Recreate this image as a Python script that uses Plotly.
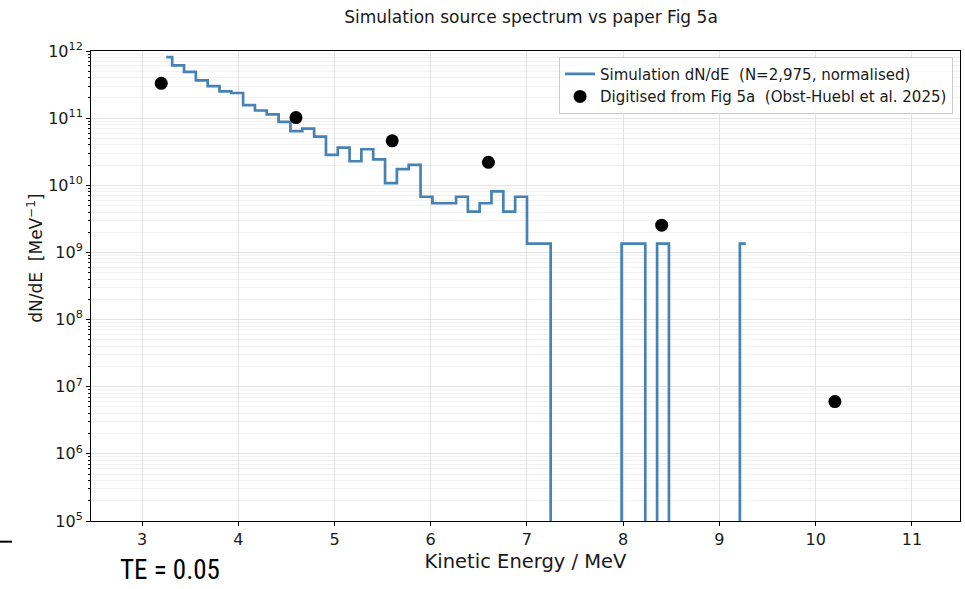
import plotly.graph_objects as go

# ---- data ----
bin_centres_mev = [3.252, 3.375, 3.498, 3.621, 3.744, 3.867, 3.989, 4.112, 4.235, 4.358,
                   4.481, 4.604, 4.727, 4.850, 4.973, 5.096, 5.218, 5.341, 5.464, 5.587,
                   5.710, 5.833, 5.956, 6.079, 6.202, 6.325, 6.447, 6.570, 6.693, 6.816,
                   6.939, 7.062, 7.185, 7.308, 7.431, 7.554, 7.676, 7.799, 7.922, 8.045,
                   8.168, 8.291, 8.414, 8.537, 8.660, 8.783, 8.905, 9.028, 9.151, 9.274]
sim_dnde = [8.1e11, 6.1e11, 4.9e11, 3.66e11, 3.0e11, 2.5e11, 2.37e11, 1.56e11, 1.30e11, 1.14e11,
            8.8e10, 6.4e10, 7.0e10, 5.3e10, 2.84e10, 3.64e10, 2.28e10, 3.44e10, 2.44e10, 1.08e10,
            1.74e10, 2.02e10, 6.75e9, 5.4e9, 5.4e9, 6.75e9, 4.05e9, 5.4e9, 8.1e9, 4.05e9,
            6.75e9, 1.35e9, 1.35e9, 0, 0, 0, 0, 0, 0, 1.35e9,
            1.35e9, 0, 1.35e9, 0, 0, 0, 0, 0, 0, 1.35e9]

paper_energy_mev = [3.2, 4.6, 5.6, 6.6, 8.4, 10.2]
paper_dnde = [3.3e11, 1.02e11, 4.6e10, 2.2e10, 2.55e9, 6.0e6]

x_ticks = [3, 4, 5, 6, 7, 8, 9, 10, 11]
y_tick_vals = [1e5, 1e6, 1e7, 1e8, 1e9, 1e10, 1e11, 1e12]
y_tick_text = ["10<sup>5</sup>", "10<sup>6</sup>", "10<sup>7</sup>", "10<sup>8</sup>",
               "10<sup>9</sup>", "10<sup>10</sup>", "10<sup>11</sup>", "10<sup>12</sup>"]

title_text = "Simulation source spectrum vs paper Fig 5a"
x_title = "Kinetic Energy / MeV"
y_title = "dN/dE  [MeV<sup>\u22121</sup>]"
sim_label = "Simulation dN/dE  (N=2,975, normalised)"
paper_label = "Digitised from Fig 5a  (Obst-Huebl et al. 2025)"
note_text = "TE = 0.05"

# empty bins are clipped to the bottom of the log axis (as matplotlib does)
LOG_FLOOR = 1e-3
sim_plot = [v if v > 0 else LOG_FLOOR for v in sim_dnde]

minor_vals = [m * d for d in [1e5, 1e6, 1e7, 1e8, 1e9, 1e10, 1e11] for m in range(2, 10)]

FONT = "DejaVu Sans"
TXT = "#1a1a1a"

fig = go.Figure()
fig.add_trace(go.Scatter(
    x=bin_centres_mev, y=sim_plot, mode="lines", line_shape="hvh",
    line=dict(color="#4682b4", width=2.7), name=sim_label,
))
fig.add_trace(go.Scatter(
    x=paper_energy_mev, y=paper_dnde, mode="markers",
    marker=dict(color="black", size=13), name=paper_label,
))

fig.update_layout(
    width=965, height=589,
    margin=dict(l=91, r=5, t=51, b=68),
    paper_bgcolor="white", plot_bgcolor="white",
    font=dict(family=FONT, size=16, color=TXT),
    title=dict(text=title_text, x=0.5503, xanchor="center", y=0.971, yanchor="middle",
               font=dict(family=FONT, size=17, color=TXT)),
    showlegend=True,
    legend=dict(x=0.992, xanchor="right", y=0.988, yanchor="top",
                bgcolor="rgba(255,255,255,0.85)", bordercolor="#cccccc", borderwidth=1,
                font=dict(family=FONT, size=15, color=TXT), tracegroupgap=0),
    xaxis=dict(
        range=[2.47, 11.5], tickvals=x_ticks, ticks="outside", ticklen=4, tickcolor="black",
        showline=True, linecolor="black", linewidth=1, mirror=True,
        showgrid=True, gridcolor="#e3e3e3", gridwidth=1, zeroline=False,
        tickfont=dict(family=FONT, size=16, color=TXT),
        title=dict(text=x_title, standoff=6,
                   font=dict(family=FONT, size=19.5, color=TXT)),
    ),
    yaxis=dict(
        type="log", range=[5, 12], tickvals=y_tick_vals, ticktext=y_tick_text,
        ticks="outside", ticklen=4, tickcolor="black",
        showline=True, linecolor="black", linewidth=1, mirror=True,
        showgrid=True, gridcolor="#e3e3e3", gridwidth=1, zeroline=False,
        tickfont=dict(family=FONT, size=16, color=TXT),
        minor=dict(tickvals=minor_vals, ticks="outside", ticklen=2, tickcolor="black",
                   showgrid=True, gridcolor="#f2f2f2", gridwidth=1),
    ),
)

# y-axis label (placed where the reference shows it)
fig.add_annotation(text=y_title, xref="paper", yref="paper", x=-0.0645, y=0.56,
                   xanchor="center", yanchor="middle", textangle=-90, showarrow=False,
                   font=dict(family=FONT, size=17, color=TXT))
fig.add_annotation(text=note_text, xref="paper", yref="paper", x=0.0909, y=-0.1415,
                   xanchor="center", yanchor="bottom", showarrow=False,
                   font=dict(family="Roboto Condensed, Liberation Sans Narrow, Roboto", size=27, color="black"))
fig.add_shape(type="line", xref="paper", yref="paper", x0=-0.1047, x1=-0.0909, y0=-0.044, y1=-0.044,
              line=dict(color="black", width=2))

fig.write_html("out.html", config={"displayModeBar": False},
               post_script="document.body.style.margin='0';")
